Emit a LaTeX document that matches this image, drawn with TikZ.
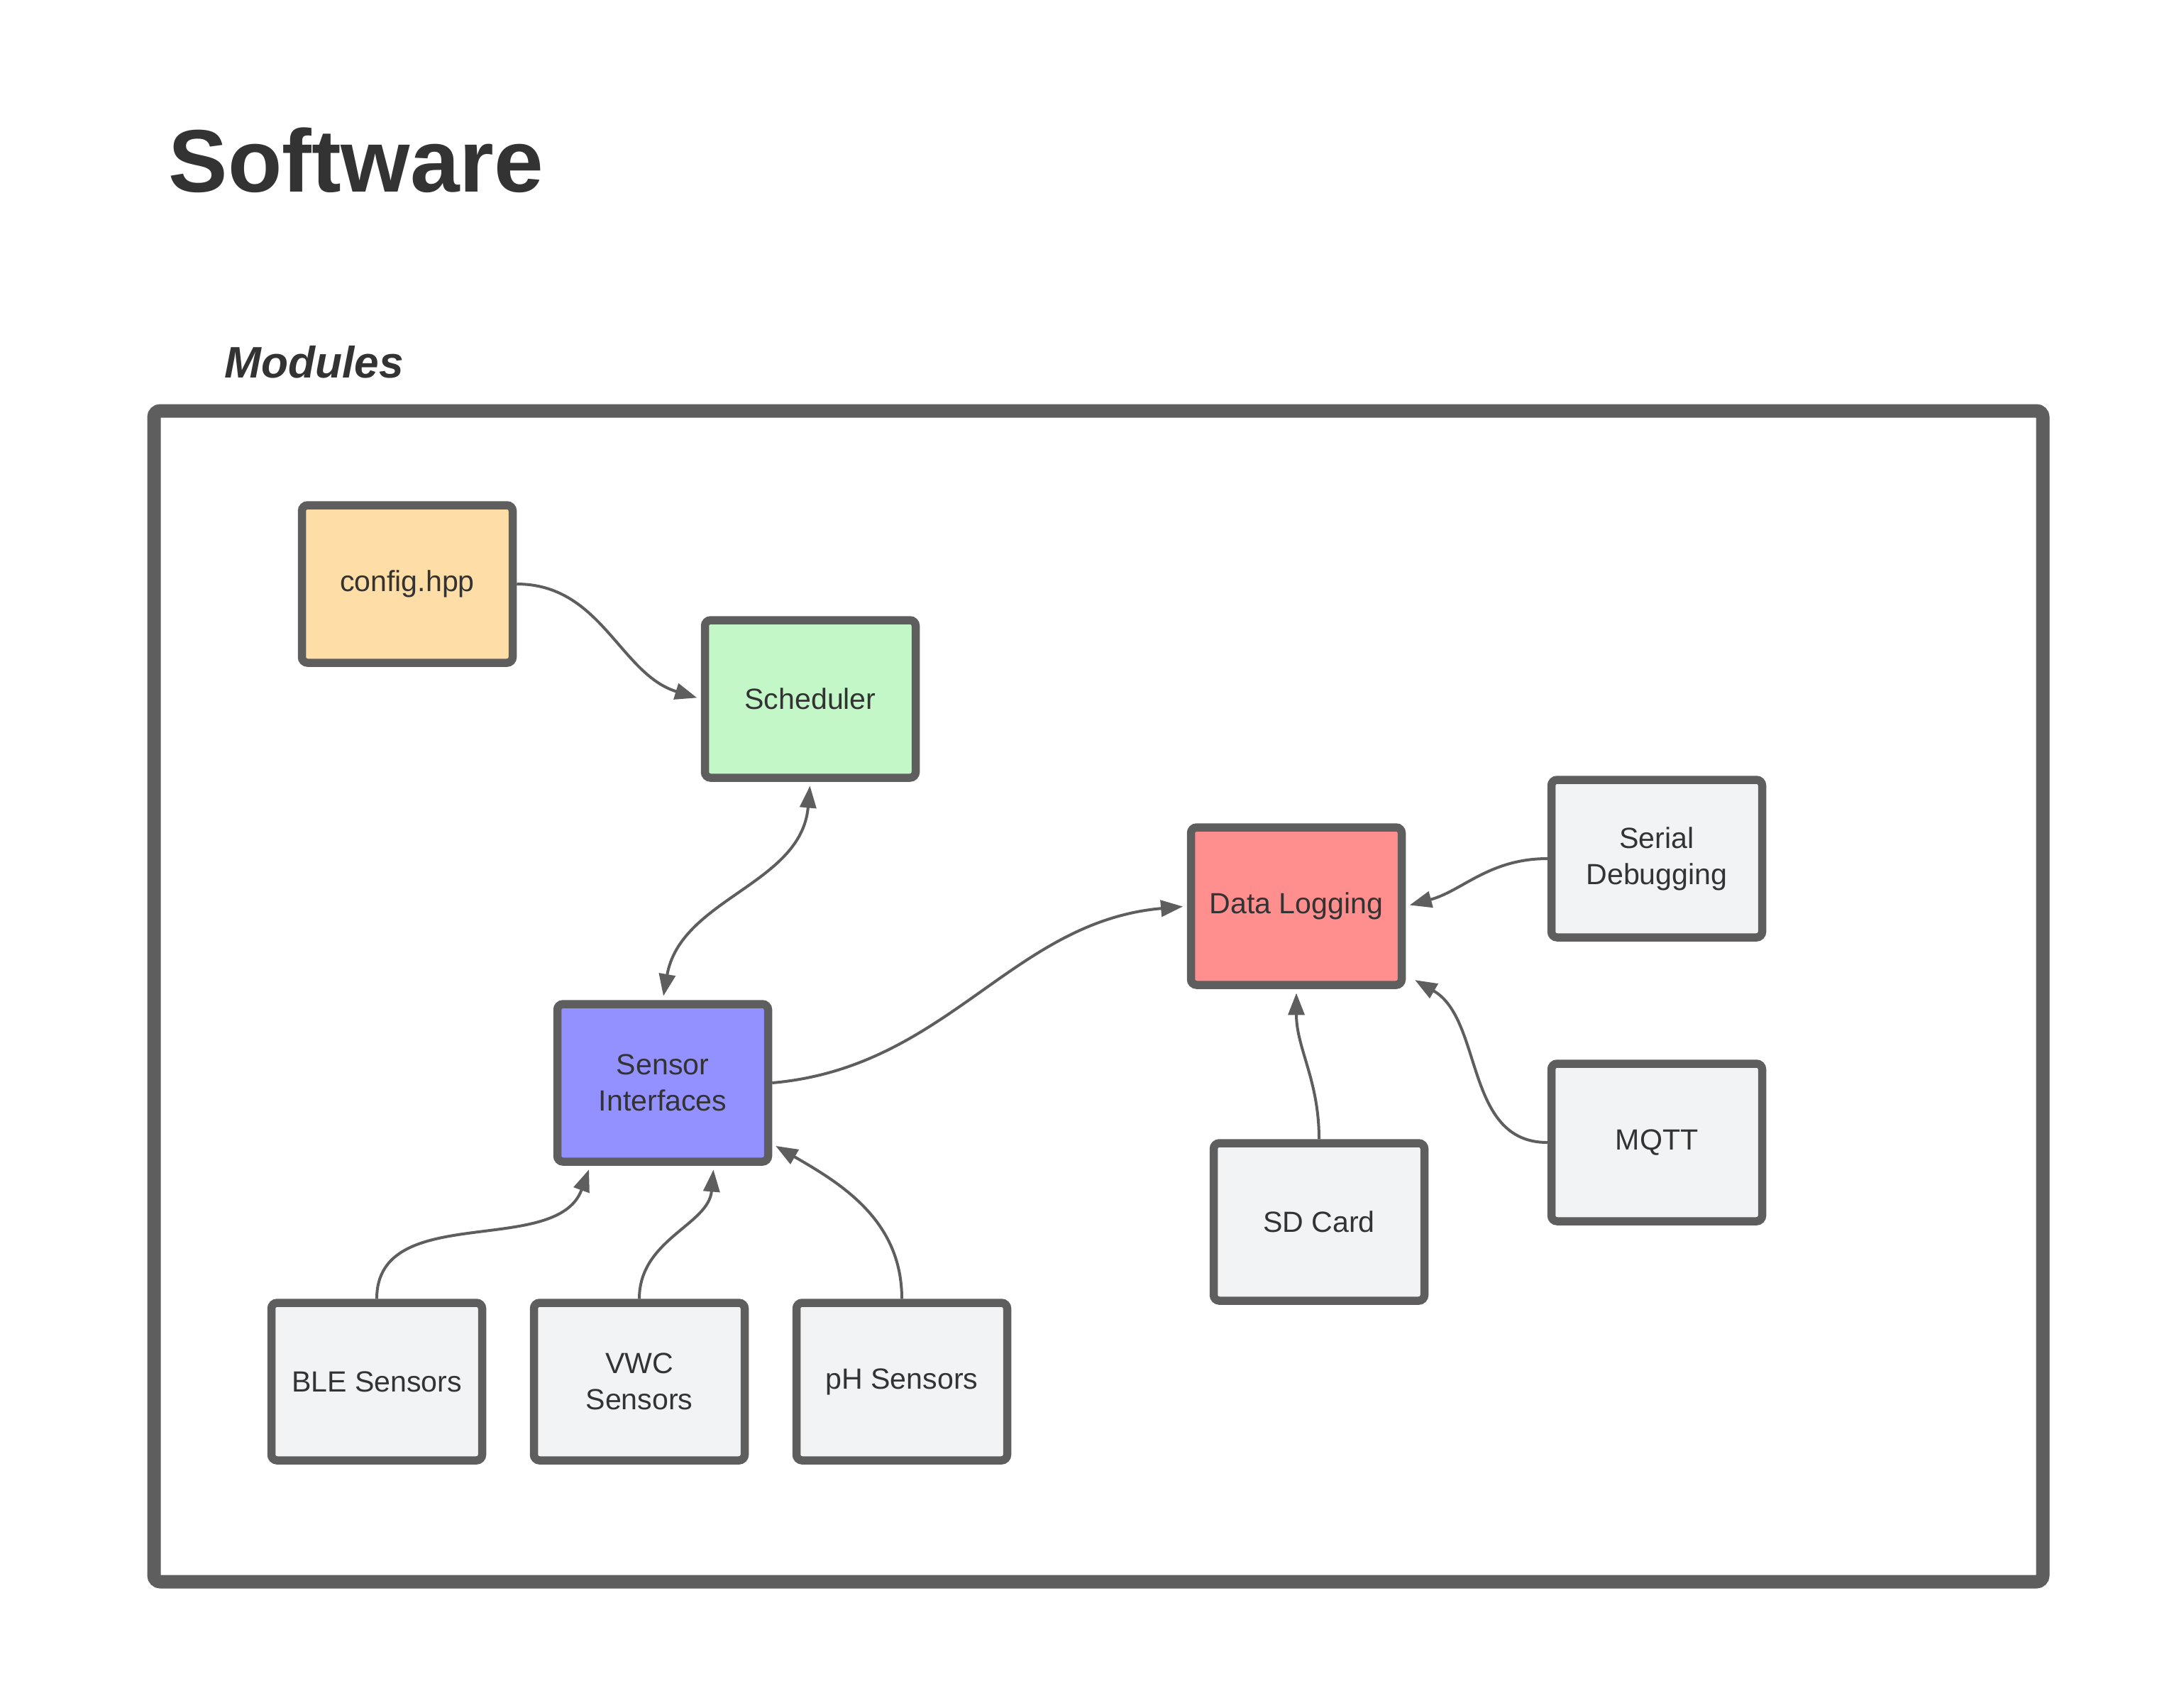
\documentclass[tikz,border=0pt]{standalone}
\usepackage{fontspec}
\setmainfont{Liberation Sans}
\usetikzlibrary{arrows.meta}
\definecolor{edgegray}{HTML}{5E5E5E}
\definecolor{textgray}{HTML}{333333}
\definecolor{cfgfill}{HTML}{FFDDA6}
\definecolor{schedfill}{HTML}{C3F7C8}
\definecolor{sensfill}{HTML}{9391FF}
\definecolor{logfill}{HTML}{FF8F8F}
\definecolor{extfill}{HTML}{F2F3F5}

\begin{document}
\begin{tikzpicture}
  [>={Triangle[length=0.31cm,width=0.23cm]},
    font=\fontsize{11.7}{14.5}\selectfont, text=textgray,
    module/.style={%
      rectangle, draw=edgegray, line width=0.115cm, rounded corners=0.08cm,
      minimum width=2.97cm, minimum height=2.22cm, inner sep=0pt,
      align=center
    },
    extmod/.style={module, fill=extfill},
    link/.style={%
      ->, draw=edgegray, line width=0.04cm,
      shorten >=0.057cm
    },
    heading/.style={anchor=base west, inner sep=0pt},
  ]

  \useasboundingbox (0,0) rectangle (30.71,-24.06);

  \node[heading, font=\fontsize{35.6}{40}\selectfont\bfseries] (title)
    at (2.37,-2.70) {Software};
  \node[heading, font=\fontsize{17.7}{20}\selectfont\bfseries\itshape] (modules)
    at (3.16,-5.32) {Modules};

  % outer frame
  \draw[edgegray, line width=0.19cm, rounded corners=0.09cm]
    (2.17,-5.79) rectangle (28.79,-22.29);

  \node[module, fill=cfgfill] (config) at (5.74,-8.23) {config.hpp};
  \node[module, fill=schedfill] (sched) at (11.42,-9.85) {Scheduler};
  \node[module, fill=sensfill] (sensor) at (9.34,-15.26) {Sensor\\Interfaces};
  \node[module, fill=logfill] (datalog) at (18.27,-12.77) {Data Logging};

  \node[extmod] (serial) at (23.35,-12.10) {Serial\\Debugging};
  \node[extmod] (mqtt) [below of=serial, node distance=4.0cm] {MQTT};
  \node[extmod] (sdcard) at (18.59,-17.22) {SD Card};

  \node[extmod] (ble) at (5.31,-19.47) {BLE Sensors};
  \node[extmod] (vwc) [right of=ble, node distance=3.7cm] {VWC\\Sensors};
  \node[extmod] (ph) [right of=vwc, node distance=3.7cm] {pH Sensors};

  \draw[link] (config.east) to[out=0, in=163] (sched.west);
  \draw[link, <->, shorten <=0.057cm] (sched.south) to[out=-95, in=80] (sensor.north);
  \draw[link] (sensor.east) to[out=5, in=185] (datalog.west);

  % into data logging
  \draw[link] (serial.west) to[out=180, in=15] (datalog.east);
  \draw[link] (mqtt.west) to[out=180, in=-30]
    ([xshift=0.08cm,yshift=0.155cm]datalog.south east);
  \draw[link] (sdcard.north) to[out=90, in=-90] (datalog.south);

  % into sensor interfaces
  \draw[link] (ble.north) to[out=90, in=-110] ([xshift=-1.02cm]sensor.south);
  \draw[link] (vwc.north) to[out=90, in=-95] ([xshift=0.72cm]sensor.south);
  \draw[link] (ph.north) to[out=90, in=-30] ([yshift=-0.86cm]sensor.east);

\end{tikzpicture}
\end{document}
